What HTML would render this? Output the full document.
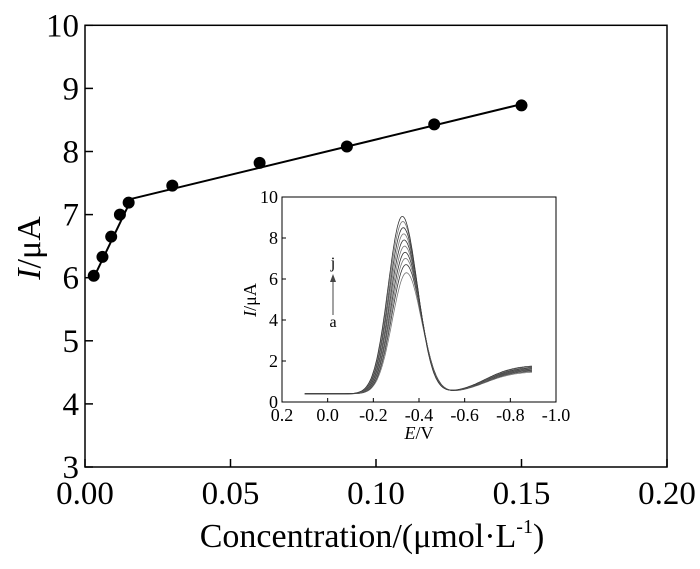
<!DOCTYPE html>
<html><head><meta charset="utf-8"><style>
body{margin:0;background:#fff}
svg text{font-family:"Liberation Serif",serif;fill:#000}
</style></head><body>
<svg id="c" width="700" height="564" xmlns="http://www.w3.org/2000/svg"></svg>
<script>
const concX=[0.003,0.006,0.009,0.012,0.015,0.03,0.06,0.09,0.12,0.15];
const currY=[6.03,6.33,6.65,7.0,7.19,7.46,7.82,8.08,8.43,8.73];
const fitX=[0.003,0.016,0.15];
const fitY=[6.0,7.25,8.75];
const xTicks=[0,0.05,0.10,0.15,0.20];
const xTickLabels=["0.00","0.05","0.10","0.15","0.20"];
const yTicks=[3,4,5,6,7,8,9,10];
const peakHeights=[6.3,6.7,7.0,7.3,7.6,7.9,8.2,8.5,8.8,9.05];
const peakPotentials=[-0.345,-0.343,-0.341,-0.339,-0.337,-0.335,-0.333,-0.331,-0.329,-0.327];
const tailHeights=[1.55,1.6,1.63,1.66,1.69,1.72,1.75,1.78,1.82,1.86];
const insetXTicks=[0.2,0.0,-0.2,-0.4,-0.6,-0.8,-1.0];
const insetXLabels=["0.2","0.0","-0.2","-0.4","-0.6","-0.8","-1.0"];
const insetYTicks=[0,2,4,6,8,10];

const svg=document.getElementById('c');const NS='http://www.w3.org/2000/svg';
function mk(t,a,p){const e=document.createElementNS(NS,t);for(const k in a)e.setAttribute(k,a[k]);(p||svg).appendChild(e);return e;}
const X=v=>85+v/0.2*582, Y=v=>467-(v-3)*63.1;
const g=mk('g',{});


const fr=mk('rect',{x:85,y:Y(10),width:582,height:Y(3)-Y(10),fill:'none',stroke:'#000','stroke-width':1.5},g);


xTicks.forEach((v,i)=>{mk('line',{x1:X(v),x2:X(v),y1:Y(3),y2:Y(3)-8,stroke:'#000','stroke-width':1.5},g);
 const t=mk('text',{x:X(v),y:504,'font-size':33,'text-anchor':'middle'},g);t.textContent=xTickLabels[i];
 
 });
yTicks.forEach(v=>{mk('line',{x1:85,x2:93,y1:Y(v),y2:Y(v),stroke:'#000','stroke-width':1.5},g);
 const t=mk('text',{x:79,y:Y(v)+11,'font-size':33,'text-anchor':'end'},g);t.textContent=v;
 
 });
const fl=mk('polyline',{points:fitX.map((v,i)=>X(v)+','+Y(fitY[i])).join(' '),fill:'none',stroke:'#000','stroke-width':2},g);


concX.forEach((v,i)=>{const c=mk('circle',{cx:X(v),cy:Y(currY[i]),r:6,fill:'#000'},g);
 
 });
const xt=mk('text',{x:372,y:547,'font-size':34,'text-anchor':'middle'});
xt.innerHTML='Concentration/(μmol·L<tspan font-size="20" dy="-14">-1</tspan><tspan dy="14">)</tspan>';


const yt=mk('text',{x:0,y:0,'font-size':34,'text-anchor':'middle',transform:'translate(40,248) rotate(-90)'});
yt.innerHTML='<tspan font-style="italic">I</tspan>/μA';



// inset
const IX=e=>282+(0.2-e)/1.2*274, IY=v=>402-v*20.5;
const ig=mk('g',{});


mk('rect',{x:282,y:197,width:274,height:205,fill:'#fff',stroke:'#000','stroke-width':1},ig);
insetXTicks.forEach((v,i)=>{mk('line',{x1:IX(v),x2:IX(v),y1:402,y2:398,stroke:'#000'},ig);
 const t=mk('text',{x:IX(v),y:421,'font-size':18,'text-anchor':'middle'},ig);t.textContent=insetXLabels[i];
 
 });
insetYTicks.forEach(v=>{mk('line',{x1:282,x2:286,y1:IY(v),y2:IY(v),stroke:'#000'},ig);
 const t=mk('text',{x:278,y:IY(v)+6,'font-size':18,'text-anchor':'end'},ig);t.textContent=v;
 
 });
peakHeights.forEach((h,i)=>{const pts=[];const th=tailHeights[i];const ep=peakPotentials[i];
 for(let e=0.1;e>=-0.9;e-=0.005){const d=-e+ep;const s=d<0?0.062:0.066;
  const base=0.4+(th-0.45)/(1+Math.exp(-((-e)-0.69)/0.065));
  const v=base+(h-0.4)*Math.exp(-d*d/(2*s*s));pts.push(IX(e).toFixed(1)+','+IY(v).toFixed(1));}
 const p=mk('polyline',{points:pts.join(' '),fill:'none',stroke:i%2?'#333':'#777','stroke-width':0.8},ig);
 
 });
mk('line',{x1:333,x2:333,y1:315,y2:280,stroke:'#444','stroke-width':1},ig);
mk('polygon',{points:'330,282 336,282 333,274',fill:'#444'},ig);
const tj=mk('text',{x:333,y:268,'font-size':16,'text-anchor':'middle'},ig);tj.textContent='j';


const ta=mk('text',{x:333,y:327,'font-size':16,'text-anchor':'middle'},ig);ta.textContent='a';


const ixt=mk('text',{x:419,y:439,'font-size':18,'text-anchor':'middle'},ig);
ixt.innerHTML='<tspan font-style="italic">E</tspan>/V';


const iyt=mk('text',{x:0,y:0,'font-size':18,'text-anchor':'middle',transform:'translate(256,300) rotate(-90)'},ig);
iyt.innerHTML='<tspan font-style="italic">I</tspan>/μA';


</script>
</body></html>
